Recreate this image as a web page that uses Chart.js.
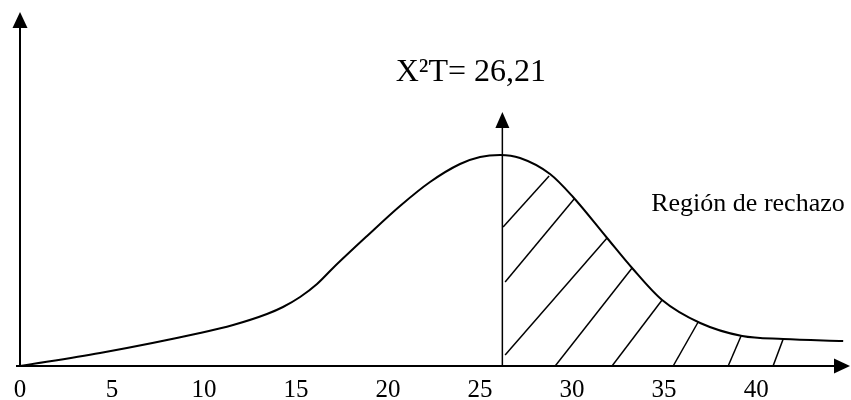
<!DOCTYPE html>
<html>
<head>
<meta charset="utf-8">
<script src="https://cdn.jsdelivr.net/npm/chart.js@4.4.1/dist/chart.umd.min.js"></script>
<style>
  body { margin: 0; background: #fff; }
  #wrap { width: 851px; height: 400px; }
</style>
</head>
<body>
<div id="wrap"><canvas id="chiChart"></canvas></div>
<script>

// chi-square curve
const curveX = [0, 4.35, 9.78, 11.58, 13.42, 14.29, 15.22, 16.14, 17.01, 18.86, 20.65, 22.28, 23.91, 25.0, 26.09,
                27.17, 28.8, 30.05, 31.9, 33.26, 34.89, 36.96, 39.24, 41.47, 44.73];
const curveY = [0, 13, 33, 41, 52, 59, 69, 82, 98, 130, 160, 184, 202, 209, 211,
                208, 192, 169, 128, 98, 66, 43, 30, 27, 25];

// hatch strokes of the rejection region (start / end points)
const hatchX0 = [26.25, 26.36, 26.36, 29.08, 32.17, 35.49, 38.48, 40.92];
const hatchY0 = [139, 84, 11, 0, 0, 0, 0, 0];
const hatchX1 = [28.75, 30.11, 31.9, 33.26, 34.89, 36.85, 39.18, 41.47];
const hatchY1 = [190, 167, 128, 98, 66, 44, 30, 27];

const CRITICAL = 26.21;
const CRITICAL_TOP = 254;
const criticalLabel = 'X\u00B2T= 26,21';
const regionLabel = 'Región de rechazo';
const criticalLabelPos = [24.5, 285];
const regionLabelPos = [34.3, 155];

const X_MAX = 45.1;
const Y_MAX = 354;
const FONT = "'Liberation Serif', 'Times New Roman', serif";


function arrowHead(ctx, x, y, dir, len, half) {
    ctx.beginPath();
    if (dir === 'up') {
        ctx.moveTo(x, y);
        ctx.lineTo(x - half, y + len);
        ctx.lineTo(x + half, y + len);
    } else {
        ctx.moveTo(x, y);
        ctx.lineTo(x - len, y - half);
        ctx.lineTo(x - len, y + half);
    }
    ctx.closePath();
    ctx.fill();
}

const sketchPlugin = {
    id: 'sketch',
    afterDatasetsDraw(chart) {
        const ctx = chart.ctx;
        const xs = chart.scales.x;
        const ys = chart.scales.y;
        const x0 = xs.getPixelForValue(0);
        const y0 = ys.getPixelForValue(0);
        const xEnd = xs.getPixelForValue(X_MAX);
        const yEnd = ys.getPixelForValue(Y_MAX);

        ctx.save();
        ctx.strokeStyle = '#000';
        ctx.fillStyle = '#000';

        // axes
        ctx.lineWidth = 2;
        ctx.beginPath();
        ctx.moveTo(x0 - 4, y0);
        ctx.lineTo(xEnd - 10, y0);
        ctx.moveTo(x0, y0);
        ctx.lineTo(x0, yEnd + 10);
        ctx.stroke();
        arrowHead(ctx, xEnd, y0, 'right', 16, 7.5);
        arrowHead(ctx, x0, yEnd, 'up', 16, 7.5);

        // critical value line
        const xc = xs.getPixelForValue(CRITICAL);
        const yc = ys.getPixelForValue(CRITICAL_TOP);
        ctx.lineWidth = 1.5;
        ctx.beginPath();
        ctx.moveTo(xc, y0);
        ctx.lineTo(xc, yc + 10);
        ctx.stroke();
        arrowHead(ctx, xc, yc, 'up', 16, 7);

        // labels
        ctx.textBaseline = 'alphabetic';
        ctx.font = '32px ' + FONT;
        ctx.textAlign = 'center';
        ctx.fillText(criticalLabel, xs.getPixelForValue(criticalLabelPos[0]), ys.getPixelForValue(criticalLabelPos[1]));
        ctx.font = '26px ' + FONT;
        ctx.textAlign = 'left';
        ctx.fillText(regionLabel, xs.getPixelForValue(regionLabelPos[0]), ys.getPixelForValue(regionLabelPos[1]));
        ctx.restore();
    }
};


const datasets = [{
    data: curveX.map((x, i) => ({ x: x, y: curveY[i] })),
    showLine: true,
    borderColor: '#000',
    borderWidth: 2,
    pointRadius: 0,
    cubicInterpolationMode: 'monotone'
}];

hatchX0.forEach((x, i) => {
    datasets.push({
        data: [{ x: x, y: hatchY0[i] }, { x: hatchX1[i], y: hatchY1[i] }],
        showLine: true,
        borderColor: '#000',
        borderWidth: 1.5,
        pointRadius: 0
    });
});

const ctx = document.getElementById('chiChart').getContext('2d');
window.chartInstance = new Chart(ctx, {
    type: 'scatter',
    data: { datasets: datasets },
    options: {
        responsive: true,
        maintainAspectRatio: false,
        animation: false,
        layout: { padding: { left: 20, right: 1, top: 12, bottom: 0 } },
        plugins: {
            legend: { display: false },
            tooltip: { enabled: false }
        },
        scales: {
            x: {
                type: 'linear',
                min: 0,
                max: X_MAX,
                grid: { display: false },
                border: { display: false },
                ticks: {
                    stepSize: 5,
                    padding: 1,
                    color: '#000',
                    font: { family: FONT, size: 25 },
                    maxRotation: 0,
                    autoSkip: false,
                    callback: v => (v <= 40 && v % 5 === 0) ? String(v) : ''
                },
                afterFit: scale => { scale.height = 34; }
            },
            y: {
                display: false,
                min: 0,
                max: Y_MAX
            }
        }
    },
    plugins: [sketchPlugin]
});
</script>
</body>
</html>
